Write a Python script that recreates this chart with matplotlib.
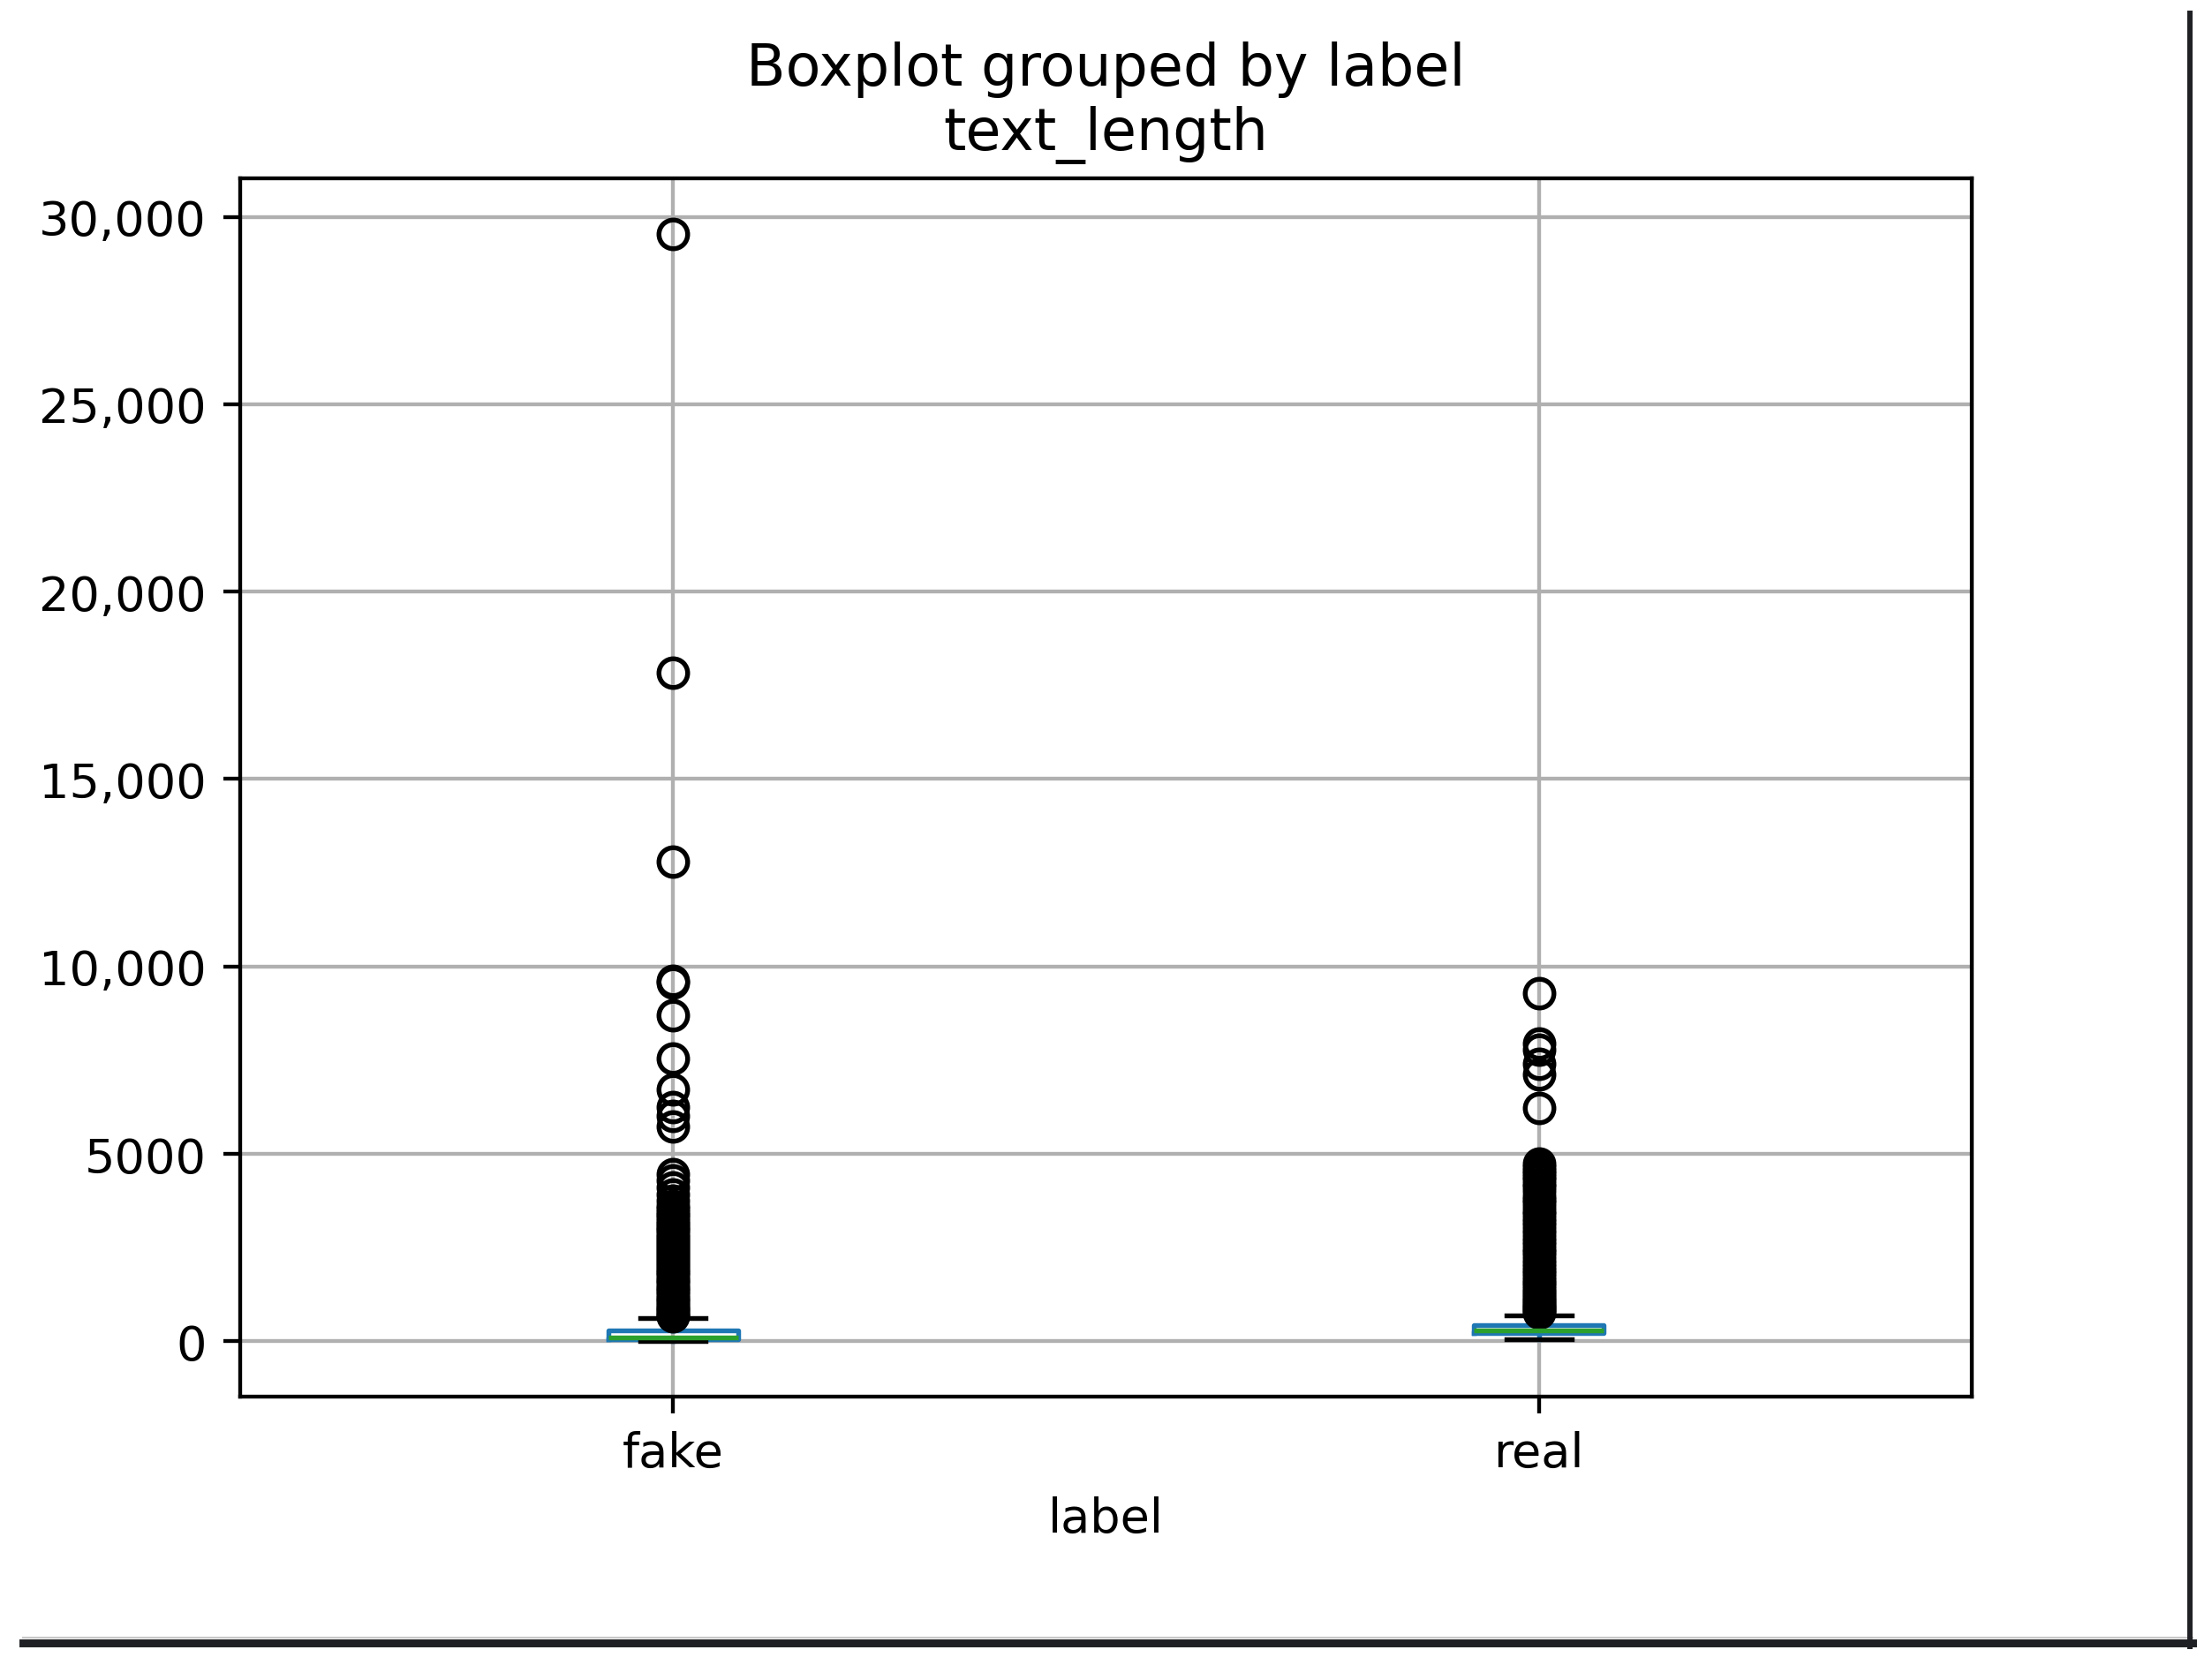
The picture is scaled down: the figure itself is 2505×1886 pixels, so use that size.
import matplotlib
matplotlib.use("Agg")
import matplotlib.pyplot as plt
from matplotlib.lines import Line2D

# box statistics
labels = ["fake", "real"]
q1 = [45, 210]
median = [90, 285]
q3 = [290, 420]
whisker_lo = [1, 45]
whisker_hi = [620, 690]

fake_fliers = [29550, 17830, 12790, 9620, 9560, 8710, 7550, 6730, 6260, 6020,
               5740, 4450, 4300, 4100, 3910, 3760, 3620, 3540, 3450, 3380,
               3300, 3210, 3150, 3070, 3000, 2940, 2860, 2780, 2720, 2650,
               2570, 2510, 2430, 2370, 2300, 2220, 2160, 2080, 2020, 1950,
               1870, 1810, 1740, 1660, 1600, 1530, 1450, 1390, 1320, 1250,
               1170, 1110, 1040, 980, 910, 860, 800, 740, 700, 660]
real_fliers = [9280, 7950, 7790, 7400, 7120, 6220, 4730, 4650, 4560, 4480,
               4400, 4310, 4200, 4120, 4010, 3880, 3780, 3700, 3590, 3480,
               3400, 3290, 3180, 3090, 2980, 2870, 2760, 2680, 2570, 2460,
               2380, 2290, 2180, 2090, 1990, 1900, 1810, 1720, 1640, 1560,
               1480, 1400, 1330, 1260, 1190, 1120, 1060, 1000, 950, 900,
               850, 800, 760]
fliers = [fake_fliers, real_fliers]

ytick_values = [0, 5000, 10000, 15000, 20000, 25000, 30000]
ytick_labels = ["0", "5000", "10,000", "15,000", "20,000", "25,000", "30,000"]

W, H, DPI = 2505, 1887, 390
fig = plt.figure(figsize=(W / DPI, H / DPI), dpi=DPI)
ax = fig.add_axes([272 / W, 1 - 1583 / H, (2233 - 272) / W, (1583 - 203) / H])

stats = []
for i, lab in enumerate(labels):
    stats.append(dict(label=lab, q1=q1[i], med=median[i], q3=q3[i],
                      whislo=whisker_lo[i], whishi=whisker_hi[i],
                      fliers=fliers[i]))

ax.bxp(stats, positions=[1, 2], widths=0.15,
       boxprops=dict(color="C0"),
       whiskerprops=dict(color="C0"),
       capprops=dict(color="k"),
       medianprops=dict(color="C2"),
       flierprops=dict(marker="o", markerfacecolor="none",
                       markeredgecolor="k"))

ax.grid(True)
ax.set_yticks(ytick_values, ytick_labels)
ax.set_title("text_length")
ax.set_xlabel("label")
fig.suptitle("Boxplot grouped by label", y=0.975)

# screenshot frame (right and bottom edges)
dark = "#1f2023"
fig.add_artist(Line2D([26 / W, 2483 / W], [1 - 1855.5 / H, 1 - 1855.5 / H],
                      transform=fig.transFigure, color="#c8c8c8", lw=0.4))
fig.add_artist(Line2D([26 / W, 2483 / W], [1 - 1861.5 / H, 1 - 1861.5 / H],
                      transform=fig.transFigure, color=dark, lw=1.65))
fig.add_artist(Line2D([2479.5 / W, 2479.5 / W], [1 - 16 / H, 1 - 1866 / H],
                      transform=fig.transFigure, color=dark, lw=1.1))

fig.savefig("out.png", dpi=DPI)
